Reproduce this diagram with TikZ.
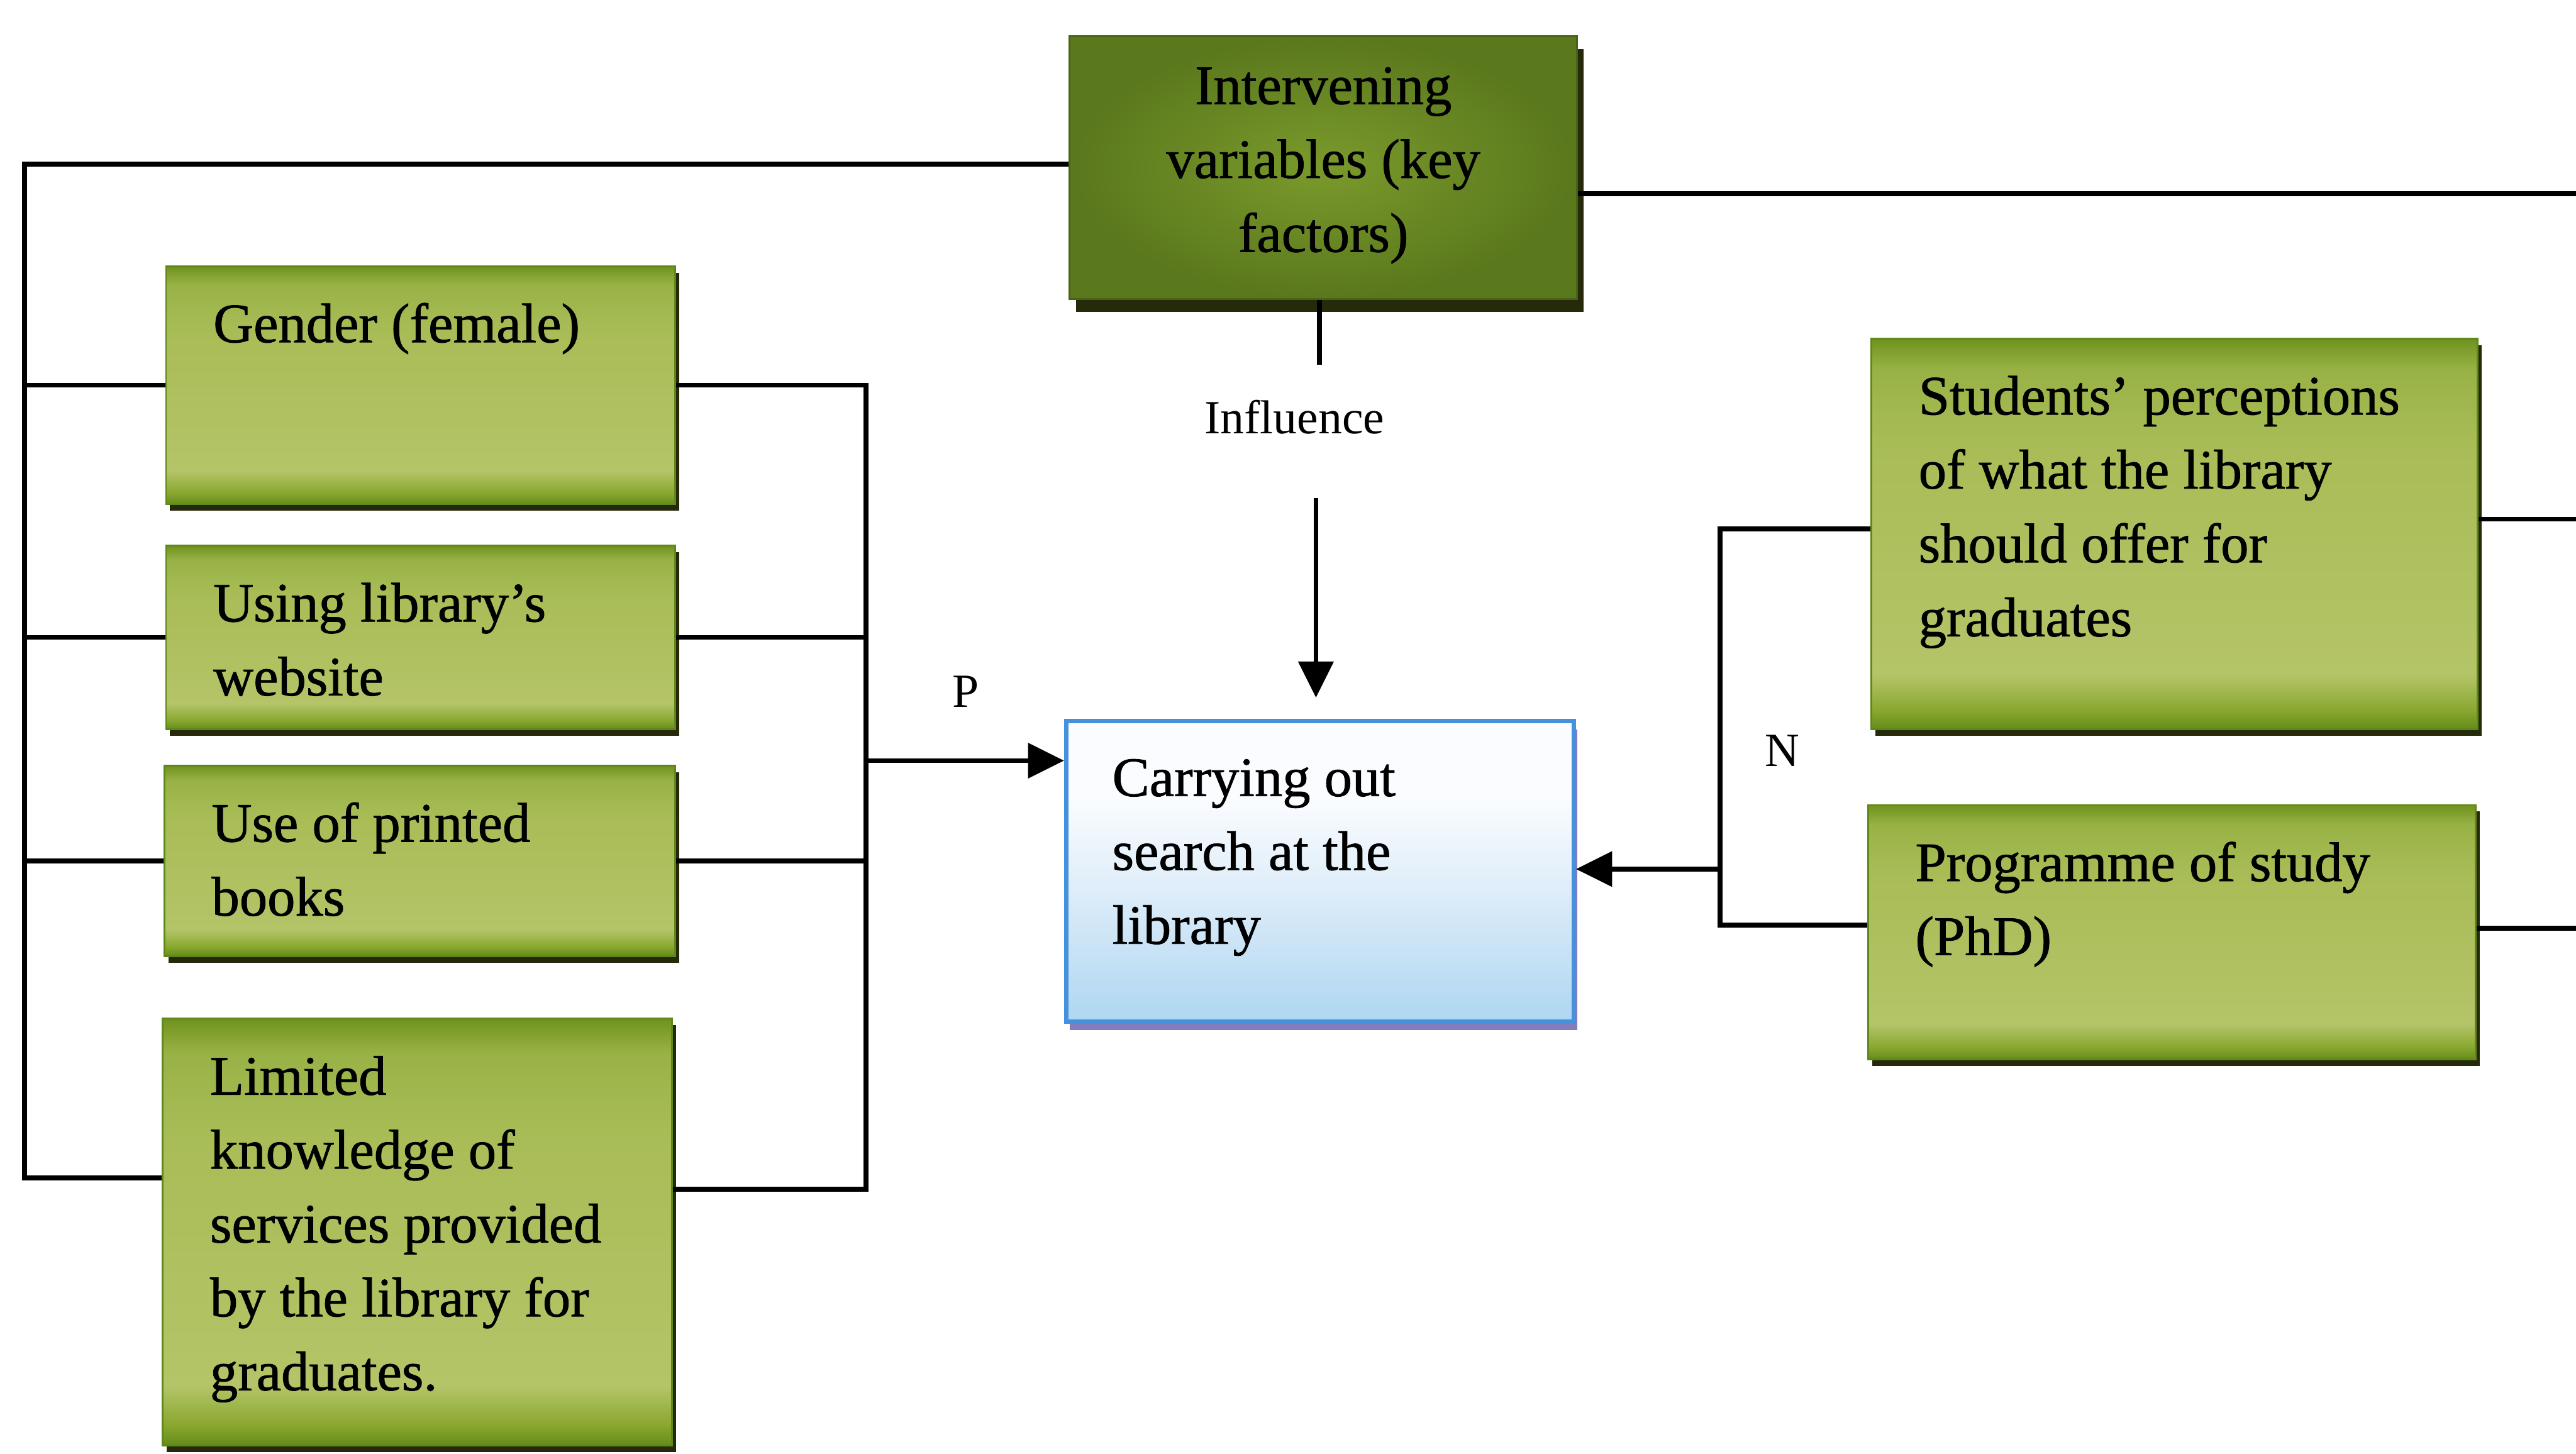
\documentclass[tikz,border=0pt]{standalone}
\usepackage{fontspec}
\setmainfont{Liberation Serif}
\newfontfamily\boxfont{Liberation Serif}[FakeBold=1]
\usetikzlibrary{arrows.meta,shadows}

% colours of the boxes
\definecolor{gEdge}{RGB}{95,135,25}
\definecolor{gB0}{RGB}{100,140,25}
\definecolor{gB1}{RGB}{138,168,48}
\definecolor{gL}{RGB}{180,196,104}
\definecolor{gL2}{RGB}{168,188,86}
\definecolor{gT1}{RGB}{152,178,70}
\definecolor{gT0}{RGB}{112,146,30}
\definecolor{gShadow}{RGB}{38,42,10}
\definecolor{kIn}{RGB}{122,154,44}
\definecolor{kOut}{RGB}{90,120,28}
\definecolor{kEdge}{RGB}{70,100,20}
\definecolor{cEdge}{RGB}{70,145,220}
\definecolor{cTop}{RGB}{250,252,255}
\definecolor{cMid}{RGB}{228,240,250}
\definecolor{cBot}{RGB}{175,214,242}
\definecolor{cShadow}{RGB}{130,125,190}

% light green body, darker rims at top and bottom
\pgfdeclareverticalshading{greenbox}{100bp}{%
  color(0bp)=(gB0); color(25bp)=(gB0); color(27.5bp)=(gB1);
  color(32bp)=(gL); color(62bp)=(gL2); color(71bp)=(gT1);
  color(75bp)=(gT0); color(100bp)=(gT0)}
% white at the top, light blue at the bottom
\pgfdeclareverticalshading{bluebox}{100bp}{%
  color(0bp)=(cBot); color(25bp)=(cBot); color(50bp)=(cMid);
  color(62bp)=(cTop); color(100bp)=(cTop)}

\begin{document}
\begin{tikzpicture}[x=0.02cm,y=-0.02cm,
  factor/.style={rectangle, inner sep=0, draw=gEdge, line width=0.6pt,
    shading=greenbox,
    drop shadow={shadow xshift=0.05cm, shadow yshift=-0.08cm,
      fill=gShadow, opacity=1}},
  keybox/.style={rectangle, inner sep=0, draw=kEdge, line width=0.6pt,
    inner color=kIn, outer color=kOut,
    drop shadow={shadow xshift=0.08cm, shadow yshift=-0.16cm,
      fill=gShadow, opacity=1}},
  outcome/.style={rectangle, inner sep=0, draw=cEdge, line width=1.5pt,
    shading=bluebox,
    drop shadow={shadow xshift=0.04cm, shadow yshift=-0.1cm,
      fill=cShadow, opacity=1}},
  boxtext/.style={font=\boxfont\fontsize{19.3}{25.6}\selectfont, inner sep=0,
    anchor=north west, align=left},
  tag/.style={font=\fontsize{16.5}{20}\selectfont, inner sep=0},
  conn/.style={line width=1.7pt, black},
  arr/.style={conn, -{Triangle[length=0.44cm,width=0.42cm]}}]

\useasboundingbox (0,0) rectangle (1568,885);
\fill[white] (0,0) rectangle (1568,885);

% boxes
\node[keybox, minimum width=6.18cm, minimum height=3.2cm] (inter) at (805.5,102) {};
\node[factor, minimum width=6.2cm, minimum height=2.9cm] (gender) at (256,234.5) {};
\node[factor, minimum width=6.2cm, minimum height=2.24cm] (website) at (256,388) {};
\node[factor, minimum width=6.22cm, minimum height=2.32cm] (books) at (255.5,524) {};
\node[factor, minimum width=6.2cm, minimum height=5.2cm] (limited) at (254,750) {};
\node[outcome, minimum width=6.18cm, minimum height=3.66cm] (central) at (803.5,530.5) {};
\node[factor, minimum width=7.38cm, minimum height=4.76cm] (students) at (1323.5,325) {};
\node[factor, minimum width=7.4cm, minimum height=3.1cm] (programme) at (1322,567.5) {};

% box texts
\node[boxtext, anchor=north, align=center] (inter-t) at ([shift={(0,10)}]inter.north)
  {\strut Intervening\\variables (key\\factors)};
\node[boxtext] (gender-t) at ([shift={(29,15)}]gender.north west) {\strut Gender (female)};
\node[boxtext] (website-t) at ([shift={(29,15)}]website.north west) {\strut Using library’s\\website};
\node[boxtext] (books-t) at ([shift={(29,15)}]books.north west) {\strut Use of printed\\books};
\node[boxtext] (limited-t) at ([shift={(29,15)}]limited.north west)
  {\strut Limited\\knowledge of\\services provided\\by the library for\\graduates.};
\node[boxtext] (central-t) at ([shift={(29,15)}]central.north west)
  {\strut Carrying out\\search at the\\library};
\node[boxtext] (students-t) at ([shift={(29,15)}]students.north west)
  {\strut Students’ perceptions\\of what the library\\should offer for\\graduates};
\node[boxtext] (programme-t) at ([shift={(29,15)}]programme.north west)
  {\strut Programme of study\\(PhD)};

% labels
\node[tag] (influence) at (788,254) {Influence};
\node[tag] (plabel) at (588,421) {P};
\node[tag] (nlabel) at (1085,457) {N};

% bend points and free ends
\coordinate (busTop) at (15,100);
\coordinate (busL) at (15,717);
\coordinate (busP) at (527,724);
\coordinate (pIn) at (527,463);
\coordinate (busN) at (1047,322);
\coordinate (busN2) at (1047,563);
\coordinate (nIn) at (1047,529);
\coordinate (stemEnd) at (803,222);
\coordinate (inflStart) at (801,303);
\coordinate (rimI) at (1568,118);
\coordinate (rimS) at (1568,316);
\coordinate (rimP) at (1568,565);

% left bus: intervening variables to the factors
\draw[conn] (busTop -| inter.west) -- (busTop) -- (busL) -- (busL -| limited.west);
\draw[conn] (gender.west) -- (gender.west -| busL);
\draw[conn] (website.west) -- (website.west -| busL);
\draw[conn] (books.west) -- (books.west -| busL);

% positive factors into the outcome
\draw[conn] (gender.east) -| (busP) -- (busP -| limited.east);
\draw[conn] (website.east) -- (website.east -| busP);
\draw[conn] (books.east) -- (books.east -| busP);
\draw[arr] (pIn) -- (pIn -| central.west);

% negative factors into the outcome
\draw[conn] (busN -| students.west) -- (busN) -- (busN2) -- (busN2 -| programme.west);
\draw[arr] (nIn) -- (nIn -| central.east);

% influence of the intervening variables
\draw[conn] (inter.south -| stemEnd) -- (stemEnd);
\draw[arr, shorten >=0.26cm] (inflStart) -- (inflStart |- central.north);

% lines leaving to the right
\draw[conn] (rimI -| inter.east) -- (rimI);
\draw[conn] (rimS -| students.east) -- (rimS);
\draw[conn] (rimP -| programme.east) -- (rimP);
\end{tikzpicture}
\end{document}
